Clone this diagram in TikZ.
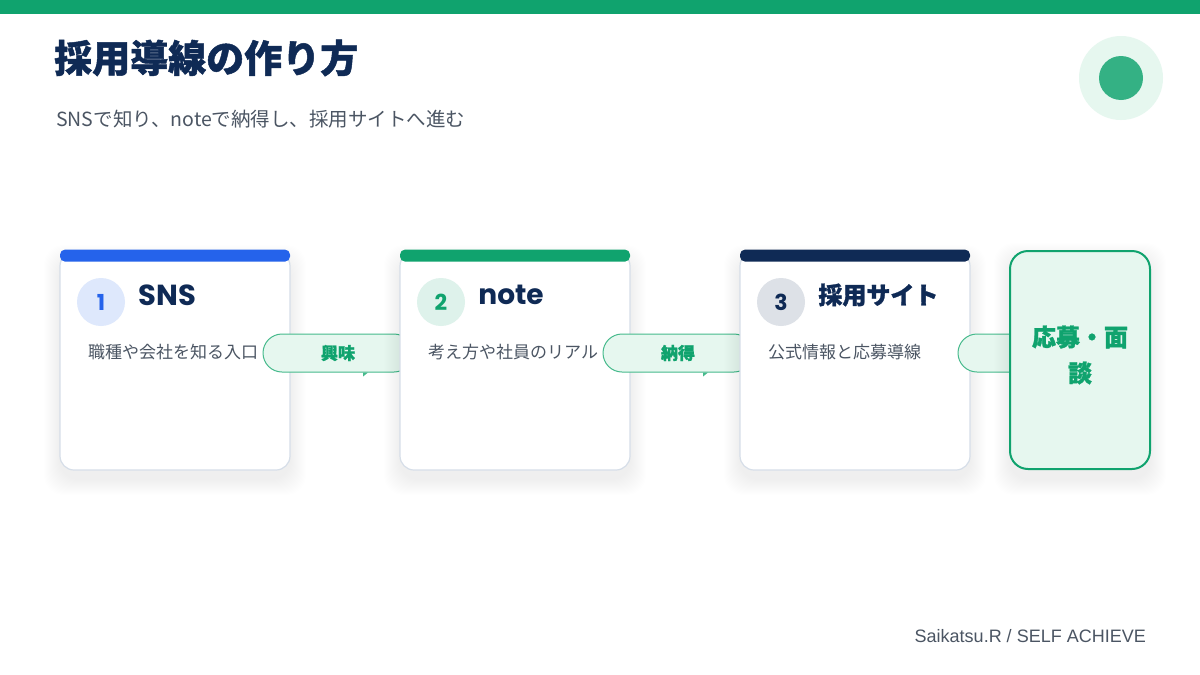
\documentclass[tikz,border=0pt]{standalone}
\usepackage{fontspec}
\setmainfont{Noto Sans CJK JP}
\newfontfamily\jpheavy{Noto Sans CJK JP}[BoldFeatures={FakeBold=1.2}]
\newfontfamily\latinbold{Poppins}[UprightFont=* Bold]
\newfontfamily\footfont{Liberation Sans}
\usepackage{tikz}
\usetikzlibrary{calc}
\usetikzlibrary{positioning}
\definecolor{brandgreen}{HTML}{10A36E}
\definecolor{navy}{HTML}{0F2A55}
\definecolor{stepblue}{HTML}{2563EB}
\definecolor{bodygray}{HTML}{4B5563}
\definecolor{softgreen}{HTML}{E6F7EF}
\definecolor{dotgreen}{HTML}{34B184}
\definecolor{cardline}{HTML}{D6DEE8}
\definecolor{pillline}{HTML}{46BA8C}
\tikzstyle{card} = [rectangle, draw=cardline, line width=1.2pt, fill=white,
    rounded corners=14pt, minimum width=230pt, minimum height=218pt, inner sep=0pt]
\tikzstyle{bar} = [rectangle, rounded corners=5pt, minimum width=230pt,
    minimum height=12pt, inner sep=0pt]
\tikzstyle{num} = [circle, minimum size=48pt, inner sep=0pt,
    font=\latinbold\fontsize{22}{22}\selectfont]
\tikzstyle{steptitle} = [anchor=west, inner sep=0pt, text=navy]
\tikzstyle{desc} = [anchor=west, inner sep=0pt, text=bodygray,
    font=\fontsize{17}{19}\selectfont]
\tikzstyle{pill} = [rectangle, draw=pillline, line width=1pt, fill=softgreen,
    rounded corners=19pt, minimum width=150pt, minimum height=38pt, inner sep=0pt,
    text=brandgreen, font=\jpheavy\bfseries\fontsize{17}{17}\selectfont]
\tikzstyle{goal} = [rectangle, draw=brandgreen, line width=2pt, fill=softgreen,
    rounded corners=18pt, minimum width=140pt, minimum height=218pt]
% soft shadow under a box: x1, y1, x2, y2
\newcommand{\softshadow}[4]{%
    \foreach \s in {1,...,16}
        \fill[black, opacity=0.0045, rounded corners=20pt]
            (#1-\s,#2-\s+9) rectangle (#3+\s,#4+\s+9);
}
\begin{document}
\begin{tikzpicture}[x=1pt, y=-1pt, node distance=13pt]
    \useasboundingbox (0,0) rectangle (1200,675);
    \fill[white] (0,0) rectangle (1200,675);
    \fill[brandgreen] (0,0) rectangle (1200,14);
    % Place nodes
    \node[anchor=west, inner sep=0pt, text=navy, font=\jpheavy\bfseries\fontsize{38}{42}\selectfont] (title) at (54,58) {採用導線の作り方};
    \node[anchor=west, inner sep=0pt, text=bodygray, font=\fontsize{19.5}{21}\selectfont] (subtitle) at (56,119) {SNSで知り、noteで納得し、採用サイトへ進む};
    \node[circle, fill=softgreen, minimum size=84pt] (ring) at (1121,78) {};
    \node[circle, fill=dotgreen, minimum size=44pt] (dot) at (ring) {};
    % step 1
    \softshadow{60}{252}{290}{470}
    \node[card] (c1) at (175,361) {};
    \node[bar, fill=stepblue, anchor=north] (b1) at ([yshift=2pt]c1.north) {};
    \node[num, fill=stepblue!15, text=stepblue] (n1) at (101,302) {1};
    \node[steptitle, right=of n1, yshift=7pt, font=\latinbold\fontsize{29}{29}\selectfont] (t1) {SNS};
    \node[desc] (d1) at (88,352) {職種や会社を知る入口};
    \node[pill] (p1) at (338,353) {興味};
    % step 2
    \softshadow{400}{252}{630}{470}
    \node[card] (c2) at (515,361) {};
    \node[bar, fill=brandgreen, anchor=north] (b2) at ([yshift=2pt]c2.north) {};
    \node[num, fill=brandgreen!14, text=brandgreen] (n2) at (441,302) {2};
    \node[steptitle, right=of n2, yshift=7pt, font=\latinbold\fontsize{28}{28}\selectfont] (t2) {note};
    \node[desc] (d2) at (428,352) {考え方や社員のリアル};
    \node[pill] (p2) at (678,353) {納得};
    % step 3
    \softshadow{740}{252}{970}{470}
    \node[card] (c3) at (855,361) {};
    \node[bar, fill=navy, anchor=north] (b3) at ([yshift=2pt]c3.north) {};
    \node[num, fill=navy!14, text=navy] (n3) at (781,302) {3};
    \node[steptitle, right=of n3, yshift=7pt, font=\jpheavy\bfseries\fontsize{24}{24}\selectfont] (t3) {採用サイト};
    \node[desc] (d3) at (768,352) {公式情報と応募導線};
    \node[pill] (p3) at (1033,353) {};
    % goal
    \softshadow{1010}{250}{1150}{470}
    \node[goal] (goal) at (1080,360) {};
    \node[align=center, text=brandgreen, font=\jpheavy\bfseries\fontsize{24}{36}\selectfont] (goaltext) at (1080,355) {応募・面\\談};
    \node[anchor=east, inner sep=0pt, text=bodygray, font=\footfont\fontsize{18}{20}\selectfont] (footer) at (1146,636) {Saikatsu.R / SELF ACHIEVE};
    % Draw edges
    \fill[pillline] ($(p1.south)+(25,0)$) -- ++(5,0) -- ++(-5,4) -- cycle;
    \fill[pillline] ($(p2.south)+(25,0)$) -- ++(5,0) -- ++(-5,4) -- cycle;
\end{tikzpicture}
\end{document}
